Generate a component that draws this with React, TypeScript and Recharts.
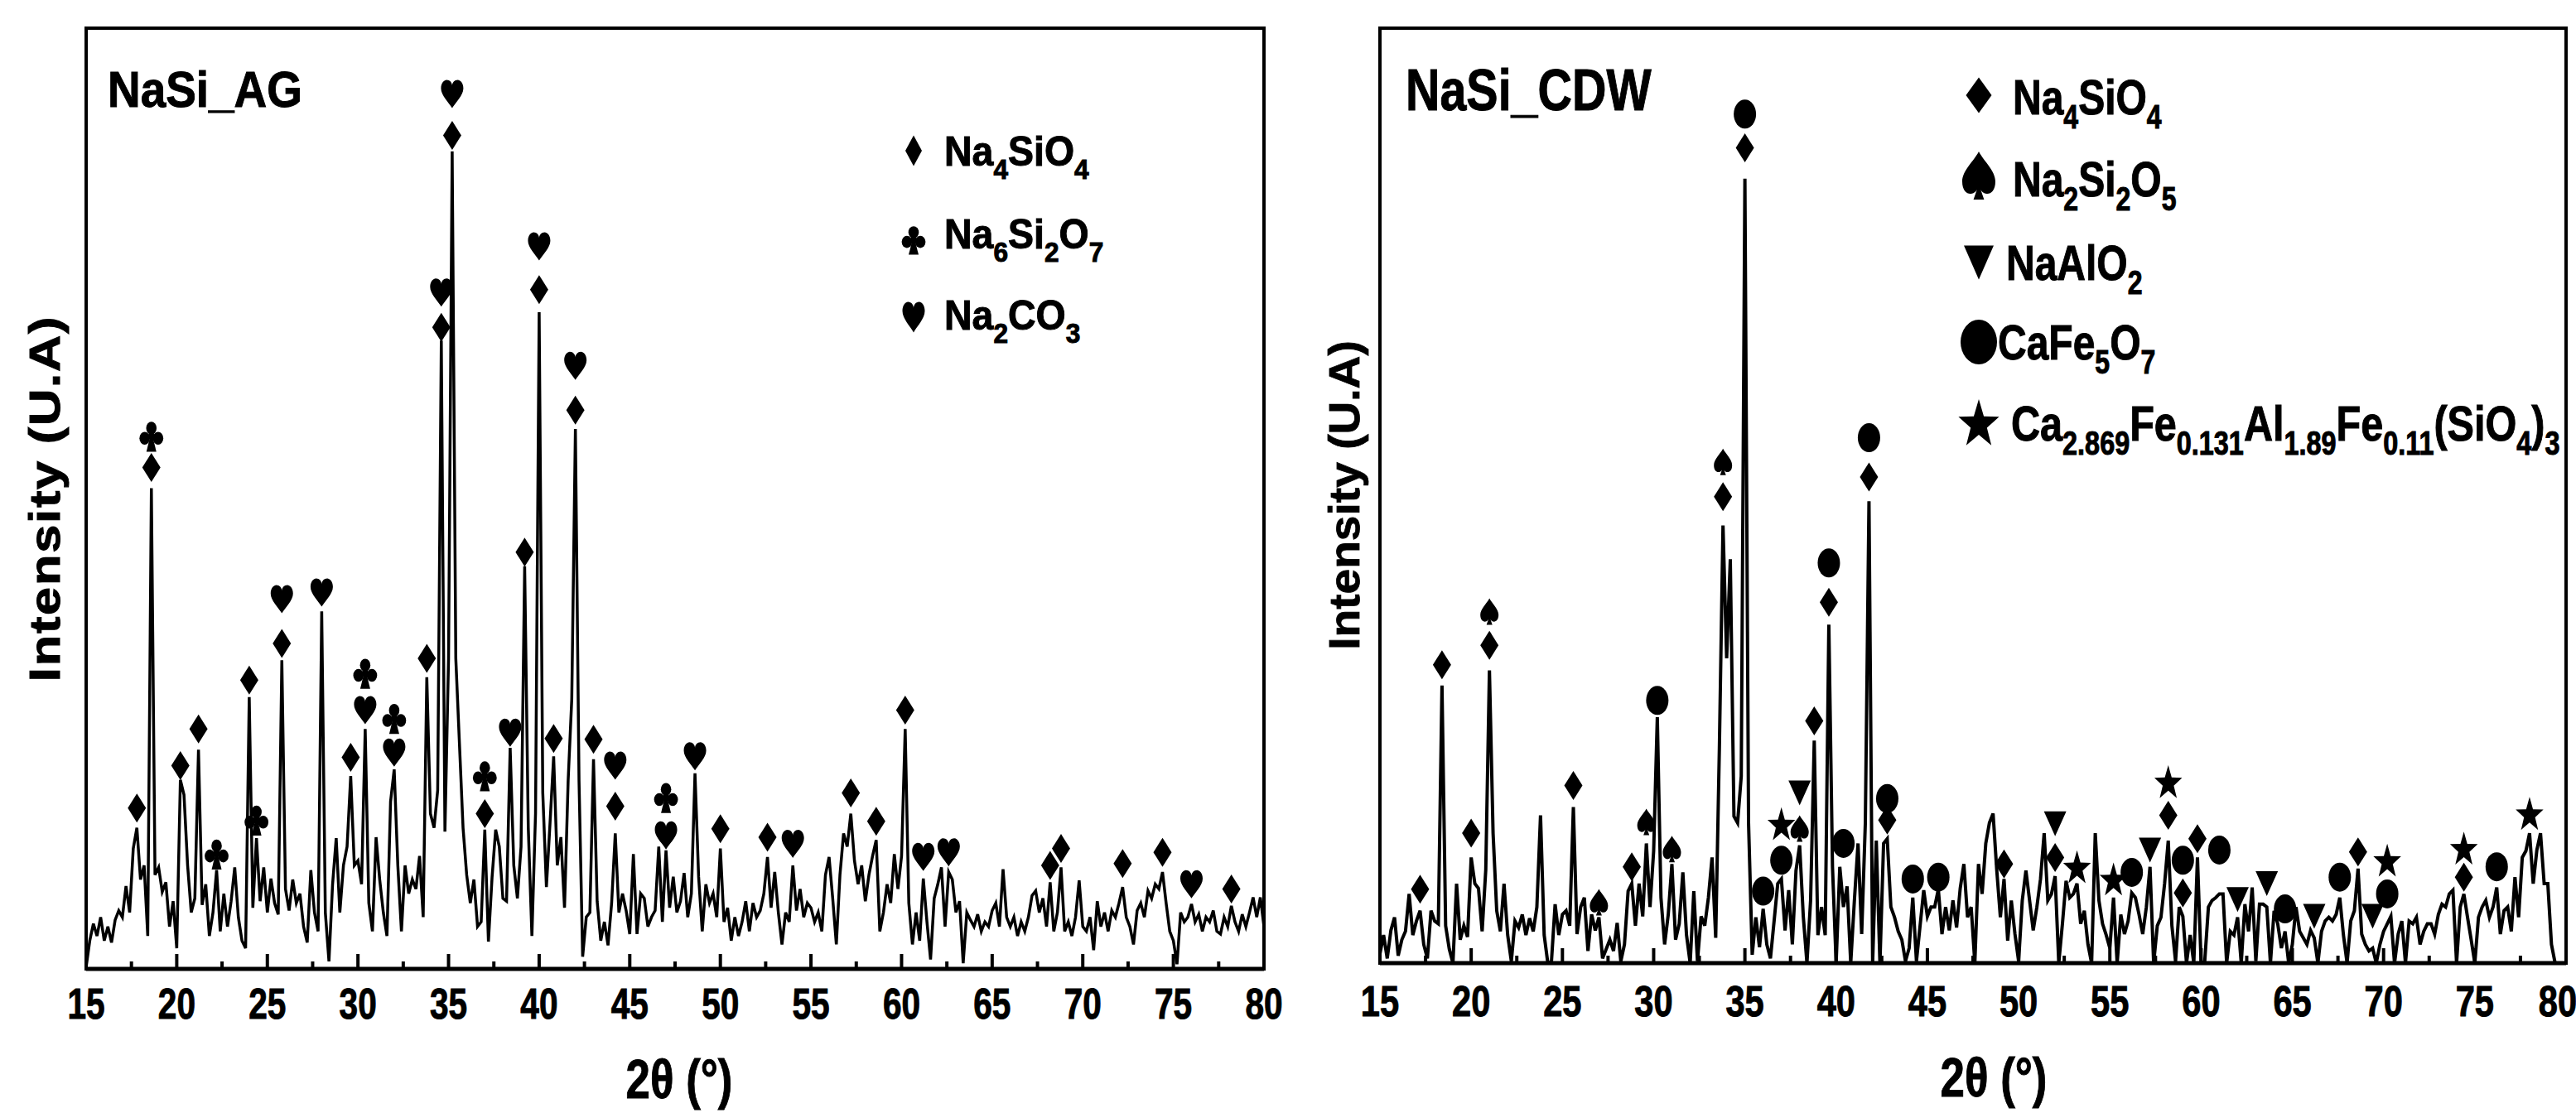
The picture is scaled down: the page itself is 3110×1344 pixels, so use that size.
import React from "react";
import { ComposedChart, Line, Scatter, XAxis, YAxis, ReferenceArea } from "recharts";

const FONT = "'Liberation Sans', Arial, Helvetica, sans-serif";

// 2-theta sampling of both patterns
const START = 15;
const STEP = 0.2;

const X_TICKS = [15, 17.5, 20, 22.5, 25, 27.5, 30, 32.5, 35, 37.5, 40, 42.5, 45, 47.5, 50, 52.5, 55, 57.5, 60, 62.5, 65, 67.5, 70, 72.5, 75, 77.5, 80];

// NaSi_AG intensity (a.u.), one row per degree (x.0, x.2, x.4, x.6, x.8)
const agIntensity = [
  2, 30, 48, 35, 55,
  30, 45, 28, 52, 62,
  55, 88, 60, 128, 150,
  95, 110, 35, 511, 100,
  108, 82, 92, 45, 72,
  22, 201, 185, 110, 60,
  75, 233, 68, 90, 35,
  60, 105, 40, 80, 45,
  72, 108, 55, 30, 22,
  289, 65, 139, 72, 108,
  60, 96, 70, 58, 328,
  85, 62, 95, 70, 80,
  45, 28, 105, 60, 40,
  380, 60, 8, 90, 139,
  60, 110, 130, 205, 110,
  115, 90, 255, 70, 40,
  140, 95, 60, 35, 178,
  212, 110, 40, 110, 80,
  95, 85, 120, 55, 310,
  165, 150, 190, 668, 146,
  330, 869, 330, 240, 150,
  100, 70, 95, 45, 50,
  148, 29, 97, 148, 130,
  75, 72, 235, 110, 75,
  130, 428, 150, 35, 165,
  698, 187, 87, 155, 226,
  110, 140, 65, 200, 287,
  574, 200, 13, 55, 60,
  223, 72, 30, 50, 25,
  70, 144, 60, 80, 62,
  37, 122, 37, 80, 75,
  45, 55, 62, 130, 50,
  126, 65, 98, 60, 72,
  102, 55, 80, 208, 98,
  40, 90, 70, 80, 55,
  128, 50, 65, 30, 55,
  35, 50, 72, 40, 70,
  55, 62, 80, 119, 65,
  103, 60, 26, 60, 50,
  110, 62, 85, 55, 70,
  65, 50, 60, 40, 100,
  119, 75, 26, 100, 144,
  130, 165, 115, 90, 110,
  72, 100, 120, 137, 40,
  60, 90, 70, 122, 85,
  120, 255, 70, 26, 60,
  30, 96, 50, 10, 75,
  90, 108, 45, 103, 95,
  60, 72, 6, 60, 52,
  45, 58, 40, 50, 45,
  62, 70, 45, 106, 55,
  45, 55, 35, 50, 40,
  55, 78, 83, 60, 75,
  45, 92, 40, 60, 108,
  40, 50, 35, 55, 94,
  45, 40, 55, 20, 72,
  45, 60, 40, 62, 55,
  70, 87, 55, 45, 26,
  62, 70, 55, 83, 75,
  90, 85, 103, 70, 40,
  30, 5, 60, 50, 55,
  69, 50, 58, 40, 55,
  50, 62, 40, 37, 55,
  45, 67, 50, 40, 58,
  45, 60, 76, 55, 76,
  45,
];

// NaSi_CDW intensity (a.u.)
const cdwIntensity = [
  10, 30, 5, 35, 49,
  8, 25, 34, 74, 30,
  45, 56, 20, 5, 56,
  45, 42, 297, 40, 15,
  0, 85, 25, 40, 28,
  113, 85, 80, 34, 100,
  313, 139, 56, 34, 85,
  30, 2, 45, 38, 52,
  30, 48, 34, 60, 158,
  30, 0, 2, 63, 30,
  52, 56, 40, 167, 31,
  60, 70, 13, 52, 35,
  49, 5, 15, 25, 13,
  43, 2, 20, 77, 85,
  40, 85, 50, 128, 60,
  120, 263, 70, 20, 52,
  106, 25, 42, 97, 30,
  0, 77, 2, 50, 40,
  70, 113, 27, 229, 468,
  326, 432, 157, 150, 200,
  839, 150, 9, 49, 17,
  58, 20, 5, 45, 85,
  90, 35, 78, 20, 99,
  126, 50, 0, 67, 238,
  30, 60, 30, 362, 103,
  0, 103, 60, 82, 0,
  67, 128, 31, 150, 494,
  0, 131, 0, 128, 133,
  60, 49, 34, 25, 2,
  16, 70, 2, 40, 78,
  50, 60, 60, 79, 31,
  60, 35, 67, 38, 80,
  106, 49, 60, 0, 106,
  74, 128, 150, 160, 100,
  49, 90, 24, 67, 31,
  2, 67, 99, 67, 35,
  60, 90, 139, 67, 74,
  93, 0, 42, 88, 70,
  74, 85, 42, 56, 20,
  0, 139, 67, 42, 30,
  16, 70, 0, 52, 31,
  45, 75, 70, 52, 31,
  60, 103, 0, 40, 49,
  85, 131, 40, 2, 60,
  50, 0, 30, 0, 113,
  0, 2, 60, 67, 70,
  74, 74, 0, 34, 30,
  49, 0, 63, 34, 81,
  2, 63, 63, 60, 0,
  56, 42, 16, 34, 0,
  20, 60, 34, 27, 20,
  35, 27, 0, 34, 45,
  49, 45, 52, 70, 30,
  0, 45, 56, 101, 31,
  20, 13, 16, 0, 20,
  34, 42, 50, 0, 31,
  45, 0, 45, 42, 49,
  20, 34, 42, 42, 31,
  52, 63, 60, 74, 78,
  0, 60, 74, 49, 25,
  0, 49, 60, 67, 49,
  60, 81, 31, 56, 60,
  34, 92, 49, 113, 120,
  139, 85, 121, 139, 85,
  85, 20, 0, 0, 0,
  0,
];

// phase markers: [2theta, height, symbol]  d=diamond c=club h=heart s=spade t=triangle o=circle x=star
const agMarks = [
  [17.8, 171, "d"],
  [18.6, 533, "d"], [18.6, 566, "c"],
  [20.2, 216, "d"],
  [21.2, 255, "d"],
  [22.2, 122, "c"],
  [24.0, 307, "d"],
  [24.4, 158, "c"],
  [25.8, 346, "d"], [25.8, 393, "h"],
  [28.0, 400, "h"],
  [29.6, 225, "d"],
  [30.4, 275, "h"], [30.4, 314, "c"],
  [32.0, 230, "h"], [32.0, 266, "c"],
  [33.8, 330, "d"],
  [34.6, 682, "d"], [34.6, 719, "h"],
  [35.2, 886, "d"], [35.2, 930, "h"],
  [37.0, 165, "d"], [37.0, 205, "c"],
  [38.4, 251, "h"],
  [39.2, 443, "d"],
  [40.0, 722, "d"], [40.0, 768, "h"],
  [40.8, 245, "d"],
  [42.0, 594, "d"], [42.0, 641, "h"],
  [43.0, 244, "d"],
  [44.2, 173, "d"], [44.2, 216, "h"],
  [47.0, 142, "h"], [47.0, 182, "c"],
  [48.6, 226, "h"],
  [50.0, 149, "d"],
  [52.6, 140, "d"],
  [54.0, 133, "h"],
  [57.2, 187, "d"],
  [58.6, 157, "d"],
  [60.2, 275, "d"],
  [61.2, 119, "h"],
  [62.6, 124, "h"],
  [68.2, 110, "d"],
  [68.8, 128, "d"],
  [72.2, 112, "d"],
  [74.4, 124, "d"],
  [76.0, 90, "h"],
  [78.2, 85, "d"],
];

const cdwMarks = [
  [17.2, 79, "d"],
  [18.4, 319, "d"],
  [20.0, 139, "d"],
  [21.0, 340, "d"], [21.0, 376, "s"],
  [25.6, 190, "d"],
  [27.0, 65, "s"],
  [28.8, 103, "d"],
  [29.6, 151, "s"],
  [30.2, 281, "o"],
  [31.0, 122, "s"],
  [33.8, 499, "d"], [33.8, 536, "s"],
  [35.0, 872, "d"], [35.0, 908, "o"],
  [36.0, 77, "o"],
  [37.0, 110, "o"], [37.0, 149, "x"],
  [38.0, 144, "s"], [38.0, 182, "t"],
  [38.8, 259, "d"],
  [39.6, 386, "d"], [39.6, 428, "o"],
  [40.4, 128, "o"],
  [41.8, 520, "d"], [41.8, 562, "o"],
  [42.8, 153, "d"], [42.8, 176, "o"],
  [44.2, 90, "o"],
  [45.6, 92, "o"],
  [49.2, 106, "d"],
  [52.0, 113, "d"], [52.0, 149, "t"],
  [53.2, 103, "x"],
  [55.2, 90, "x"],
  [56.2, 97, "o"],
  [57.2, 121, "t"],
  [58.2, 158, "d"], [58.2, 194, "x"],
  [59.0, 75, "d"], [59.0, 110, "o"],
  [59.8, 133, "d"],
  [61.0, 121, "o"],
  [62.0, 68, "t"],
  [63.6, 85, "t"],
  [64.6, 58, "o"],
  [66.2, 50, "t"],
  [67.6, 92, "o"],
  [68.6, 119, "d"],
  [69.4, 50, "t"],
  [70.2, 74, "o"], [70.2, 110, "x"],
  [74.4, 92, "d"], [74.4, 123, "x"],
  [76.2, 103, "o"],
  [78.0, 160, "x"],
];

// legend entries: symbol and formula parts [text, isSubscript]
const agLegend = [
  { sym: "d", parts: [["Na", 0], ["4", 1], ["SiO", 0], ["4", 1]] },
  { sym: "c", parts: [["Na", 0], ["6", 1], ["Si", 0], ["2", 1], ["O", 0], ["7", 1]] },
  { sym: "h", parts: [["Na", 0], ["2", 1], ["CO", 0], ["3", 1]] },
];

const cdwLegend = [
  { sym: "d", parts: [["Na", 0], ["4", 1], ["SiO", 0], ["4", 1]] },
  { sym: "s", parts: [["Na", 0], ["2", 1], ["Si", 0], ["2", 1], ["O", 0], ["5", 1]] },
  { sym: "t", parts: [["NaAlO", 0], ["2", 1]] },
  { sym: "o", parts: [["CaFe", 0], ["5", 1], ["O", 0], ["7", 1]] },
  {
    sym: "x",
    parts: [["Ca", 0], ["2.869", 1], ["Fe", 0], ["0.131", 1], ["Al", 0], ["1.89", 1], ["Fe", 0], ["0.11", 1], ["(SiO", 0], ["4", 1], [")", 0], ["3", 1]],
  },
];

const toLine = (vals: number[]) => vals.map((y, i) => ({ x: Math.round((START + i * STEP) * 10) / 10, y }));
const toMarks = (m: any[]) => m.map(([x, y, s]) => ({ x, y, s }));

const HEART = "M0,0.5 C-0.15,0.3 -0.5,0.05 -0.5,-0.2 C-0.5,-0.4 -0.35,-0.5 -0.25,-0.5 C-0.1,-0.5 0,-0.4 0,-0.3 C0,-0.4 0.1,-0.5 0.25,-0.5 C0.35,-0.5 0.5,-0.4 0.5,-0.2 C0.5,0.05 0.15,0.3 0,0.5 Z";
const SPADE = "M0,-0.5 C-0.15,-0.3 -0.5,-0.1 -0.5,0.12 C-0.5,0.3 -0.38,0.38 -0.25,0.38 C-0.12,0.38 -0.04,0.3 -0.02,0.22 L-0.16,0.5 L0.16,0.5 L0.02,0.22 C0.04,0.3 0.12,0.38 0.25,0.38 C0.38,0.38 0.5,0.3 0.5,0.12 C0.5,-0.1 0.15,-0.3 0,-0.5 Z";

function starPoints() {
  const pts: string[] = [];
  for (let k = 0; k < 10; k++) {
    const r = k % 2 === 0 ? 0.55 : 0.22;
    const a = -Math.PI / 2 + (k * Math.PI) / 5;
    pts.push(`${(r * Math.cos(a)).toFixed(3)},${(r * Math.sin(a) + 0.05).toFixed(3)}`);
  }
  return pts.join(" ");
}
const STAR = starPoints();

function Glyph({ s, cx, cy, w, h }: { s: string; cx: number; cy: number; w: number; h: number }) {
  let body: React.ReactNode = null;
  if (s === "d") body = <polygon points="0,-0.5 0.5,0 0,0.5 -0.5,0" />;
  else if (s === "h") body = <path d={HEART} />;
  else if (s === "s") body = <path d={SPADE} />;
  else if (s === "t") body = <polygon points="-0.5,-0.5 0.5,-0.5 0,0.5" />;
  else if (s === "o") body = <ellipse cx={0} cy={0} rx={0.5} ry={0.5} />;
  else if (s === "x") body = <polygon points={STAR} />;
  else if (s === "c")
    body = (
      <g>
        <circle cx={0} cy={-0.27} r={0.21} />
        <circle cx={-0.27} cy={0.06} r={0.21} />
        <circle cx={0.27} cy={0.06} r={0.21} />
        <circle cx={0} cy={-0.02} r={0.13} />
        <path d="M-0.05,0 L-0.2,0.5 L0.2,0.5 L0.05,0 Z" />
      </g>
    );
  return (
    <g transform={`translate(${cx},${cy}) scale(${w},${h})`} fill="#000" stroke="none">
      {body}
    </g>
  );
}

const agSizes: Record<string, number[]> = { d: [22, 35], h: [27, 34], c: [30, 37] };
const cdwSizes: Record<string, number[]> = { d: [22, 35], s: [22, 32], t: [27, 30], o: [27, 35], x: [32, 40] };

function makeTick(labelDy: number, fontSize: number, sx: number, edge: number) {
  return (props: any) => {
    const { x, y, payload } = props;
    const v = payload.value;
    const major = v % 5 === 0;
    // keep the last label inside the page
    const tx = Math.min(x, edge);
    return (
      <g>
        <line x1={x} x2={x} y1={y} y2={y - (major ? 18 : 9)} stroke="#000" strokeWidth={4} />
        {major && (
          <text
            transform={`translate(${tx},${y + labelDy}) scale(${sx},1)`}
            textAnchor="middle"
            fontSize={fontSize}
            fontWeight="bold"
            fontFamily={FONT}
            fill="#000"
            stroke="#000"
            strokeWidth={1}
          >
            {v}
          </text>
        )}
      </g>
    );
  };
}

function Panel(props: {
  left: number;
  width: number;
  margin: any;
  line: any[];
  marks: any[];
  sizes: Record<string, number[]>;
  stroke: number;
  tick: any;
}) {
  const { left, width, margin, line, marks, sizes, stroke, tick } = props;
  return (
    <div style={{ position: "absolute", left, top: 0, width, height: 1344 }}>
      <ComposedChart width={width} height={1344} margin={margin}>
        <XAxis
          type="number"
          dataKey="x"
          domain={[15, 80]}
          ticks={X_TICKS}
          interval={0}
          allowDataOverflow
          tickLine={false}
          tickSize={0}
          tickMargin={0}
          height={60}
          axisLine={{ stroke: "#000", strokeWidth: 5 }}
          tick={tick}
        />
        <YAxis type="number" domain={[0, 1000]} hide width={0} allowDataOverflow />
        <ReferenceArea x1={15} x2={80} y1={0} y2={1000} fill="none" stroke="#000" strokeWidth={4} ifOverflow="visible" />
        <Line
          data={line}
          dataKey="y"
          type="linear"
          stroke="#000"
          strokeWidth={stroke}
          dot={false}
          activeDot={false}
          isAnimationActive={false}
        />
        <Scatter
          data={marks}
          dataKey="y"
          isAnimationActive={false}
          shape={(p: any) => {
            const [w, h] = sizes[p.payload.s];
            return <Glyph s={p.payload.s} cx={p.cx} cy={p.cy} w={w} h={h} />;
          }}
        />
      </ComposedChart>
    </div>
  );
}

function Formula({ x, y, parts, fs, sub, dy, sx }: any) {
  let inSub = false;
  return (
    <text
      transform={`translate(${x},${y}) scale(${sx},1)`}
      fontSize={fs}
      fontWeight="bold"
      fontFamily={FONT}
      fill="#000"
      stroke="#000"
      strokeWidth={1}
    >
      {parts.map(([t, isSub]: [string, number], i: number) => {
        let shift = 0;
        if (isSub && !inSub) shift = dy;
        if (!isSub && inSub) shift = -dy;
        inSub = !!isSub;
        return (
          <tspan key={i} dy={shift} fontSize={isSub ? sub : fs}>
            {t}
          </tspan>
        );
      })}
    </text>
  );
}

const agLegendPos = { symX: 1103, symY: [182, 290, 383], textX: 1140, base: [200, 300, 398] };
const agLegendSym: Record<string, number[]> = { d: [20, 37], c: [30, 35], h: [27, 37] };
const cdwLegendPos = { symX: 2389, symY: [115, 212, 317, 413, 510], textX: [2430, 2430, 2422, 2412, 2428], base: [138, 237, 338, 434, 532] };
const cdwLegendSym: Record<string, number[]> = { d: [31, 43], s: [40, 58], t: [36, 41], o: [44, 54], x: [47, 56] };

const heavy = { fontWeight: "bold" as const, fontFamily: FONT, fill: "#000", stroke: "#000", strokeWidth: 1 };

export default function App() {
  const agLine = toLine(agIntensity);
  const cdwLine = toLine(cdwIntensity);
  return (
    <div style={{ position: "absolute", left: 0, top: 0, width: 3110, height: 1344, background: "#fff", overflow: "hidden" }}>
      <Panel
        left={0}
        width={1560}
        margin={{ top: 34, right: 34, bottom: 114, left: 104 }}
        line={agLine}
        marks={toMarks(agMarks)}
        sizes={agSizes}
        stroke={3.5}
        tick={makeTick(60, 52, 0.78, 9999)}
      />
      <Panel
        left={1560}
        width={1550}
        margin={{ top: 34, right: 12, bottom: 121, left: 106 }}
        line={cdwLine}
        marks={toMarks(cdwMarks)}
        sizes={cdwSizes}
        stroke={4}
        tick={makeTick(64, 52, 0.8, 1528)}
      />
      <svg width={3110} height={1344} style={{ position: "absolute", left: 0, top: 0, pointerEvents: "none" }}>
        {/* panel titles */}
        <text transform="translate(130,129) scale(0.9,1)" fontSize={61} {...heavy}>
          NaSi_AG
        </text>
        <text transform="translate(1697,133) scale(0.82,1)" fontSize={70} {...heavy}>
          NaSi_CDW
        </text>

        {/* y labels */}
        <text transform="translate(72,602) rotate(-90) scale(1.18,1)" textAnchor="middle" fontSize={52} letterSpacing={1.5} {...heavy}>
          Intensity (U.A)
        </text>
        <text transform="translate(1641,598) rotate(-90) scale(1.06,1)" textAnchor="middle" fontSize={52} {...heavy} strokeWidth={0.8}>
          Intensity (U.A)
        </text>

        {/* x labels */}
        <text transform="translate(820,1326) scale(0.8,1)" textAnchor="middle" fontSize={66} {...heavy}>
          2θ (°)
        </text>
        <text transform="translate(2407,1324) scale(0.8,1)" textAnchor="middle" fontSize={66} {...heavy}>
          2θ (°)
        </text>

        {/* legends */}
        {agLegend.map((e, i) => (
          <g key={"ag" + i}>
            <Glyph s={e.sym} cx={agLegendPos.symX} cy={agLegendPos.symY[i]} w={agLegendSym[e.sym][0]} h={agLegendSym[e.sym][1]} />
            <Formula x={agLegendPos.textX} y={agLegendPos.base[i]} parts={e.parts} fs={50} sub={34} dy={16} sx={0.93} />
          </g>
        ))}
        {cdwLegend.map((e, i) => (
          <g key={"cdw" + i}>
            <Glyph s={e.sym} cx={cdwLegendPos.symX} cy={cdwLegendPos.symY[i]} w={cdwLegendSym[e.sym][0]} h={cdwLegendSym[e.sym][1]} />
            <Formula x={cdwLegendPos.textX[i]} y={cdwLegendPos.base[i]} parts={e.parts} fs={60} sub={40} dy={17} sx={i === 4 ? 0.81 : 0.8} />
          </g>
        ))}
      </svg>
    </div>
  );
}
